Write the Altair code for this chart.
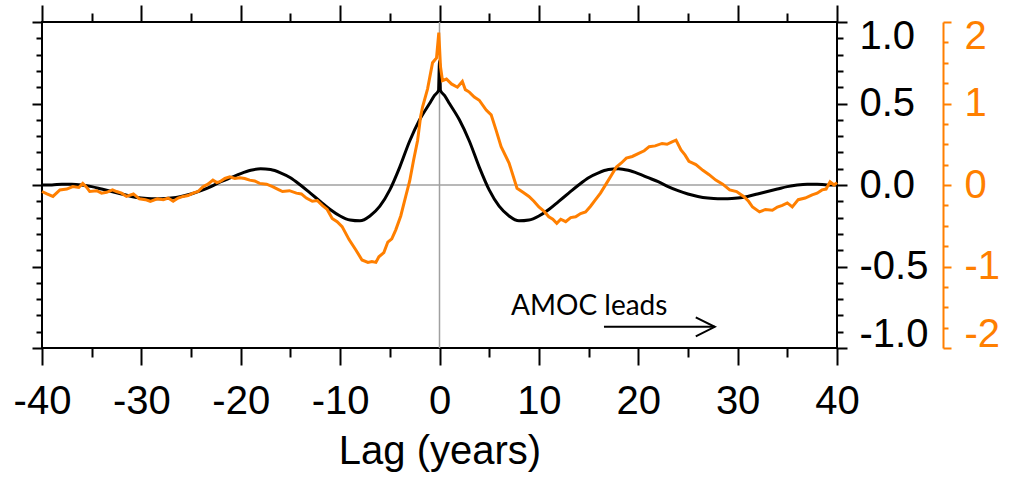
import altair as alt
import pandas as pd

# ---------------- data ----------------
black_lag = [-40, -39, -38, -37, -36, -35, -34, -33, -32, -31, -30, -29, -28, -27, -26, -25,
             -24, -23, -22, -21, -20, -19, -18, -17, -16, -15, -14, -13, -12, -11, -10, -9,
             -8, -7, -6, -5, -4, -3, -2, -1, -0.5, -0.1, 0, 0.1, 0.5, 1, 2, 3, 4, 5, 6, 7, 8,
             9, 10, 11, 12, 13, 14, 15, 16, 17, 18, 19, 20, 21, 22, 23, 24, 25, 26, 27, 28,
             29, 30, 31, 32, 33, 34, 35, 36, 37, 38, 39, 40]
black_r = [0.0, 0.0, 0.005, 0.005, 0.0, -0.01, -0.025, -0.04, -0.055, -0.07, -0.08, -0.085,
           -0.085, -0.08, -0.07, -0.055, -0.035, -0.01, 0.02, 0.045, 0.07, 0.09, 0.10, 0.095,
           0.075, 0.045, 0.0, -0.05, -0.10, -0.15, -0.19, -0.215, -0.22, -0.19, -0.13, -0.03,
           0.11, 0.27, 0.40, 0.50, 0.55, 0.58, 0.76, 0.58, 0.55, 0.50, 0.40, 0.27, 0.11,
           -0.03, -0.13, -0.19, -0.22, -0.215, -0.19, -0.15, -0.10, -0.05, 0.0, 0.045, 0.075,
           0.095, 0.10, 0.09, 0.07, 0.045, 0.02, -0.01, -0.035, -0.055, -0.07, -0.08, -0.085,
           -0.085, -0.08, -0.07, -0.055, -0.04, -0.025, -0.01, 0.0, 0.005, 0.005, 0.0, 0.0]

orange_lag = [-40, -39.5, -38.9, -38.2, -37.5, -36.9, -36.3, -35.9, -35.5, -35.2, -34.5, -34.0,
              -33.5, -32.9, -32.5, -32.0, -31.5, -30.8, -30.2, -29.6, -29.1, -28.4, -27.8,
              -27.3, -26.8, -26.3, -25.8, -25.3, -24.8, -24.3, -23.8, -23.3, -22.8, -22.4,
              -22.1, -21.6, -21.1, -20.6, -20.1, -19.6, -19.1, -18.6, -18.1, -17.4, -16.8,
              -16.3, -15.8, -15.1, -14.4, -13.9, -13.4, -12.8, -12.3, -11.8, -11.3, -10.8,
              -10.3, -9.8, -9.1, -8.4, -7.8, -7.2, -6.8, -6.4, -6.1, -5.6, -5.2, -4.8, -4.4,
              -3.9, -3.4, -3.0, -2.6, -2.2, -1.9, -1.7, -1.2, -0.7, -0.3, -0.07, 0.1, 0.3, 0.7,
              1.2, 1.8, 2.3, 2.6, 3.0, 3.5, 4.0, 4.7, 5.2, 5.7, 6.2, 7.0, 7.8, 8.4, 9.0, 9.5,
              10.0, 10.5, 11.0, 11.4, 11.8, 12.2, 12.7, 13.2, 13.7, 14.2, 14.7, 15.2, 15.7,
              16.2, 16.8, 17.3, 17.8, 18.3, 18.8, 19.4, 20.1, 20.6, 21.1, 21.7, 22.4, 22.9,
              23.4, 23.8, 24.3, 24.7, 25.1, 25.8, 26.5, 27.1, 27.8, 28.5, 29.2, 29.9, 30.6,
              31.1, 31.5, 32.2, 32.8, 33.5, 34.0, 34.5, 35.0, 35.5, 36.1, 36.8, 37.5, 38.0,
              38.5, 38.9, 39.3, 39.7, 40]
orange_v = [-0.08, -0.11, -0.14, -0.06, -0.05, -0.02, -0.03, 0.02, -0.03, -0.08, -0.07, -0.10,
            -0.09, -0.06, -0.08, -0.10, -0.14, -0.11, -0.17, -0.18, -0.20, -0.17, -0.18, -0.16,
            -0.20, -0.16, -0.14, -0.13, -0.10, -0.08, -0.02, 0.01, 0.06, 0.03, 0.04, 0.08, 0.10,
            0.08, 0.09, 0.08, 0.06, 0.05, 0.02, 0.01, -0.02, -0.05, -0.08, -0.07, -0.10, -0.11,
            -0.16, -0.20, -0.19, -0.25, -0.30, -0.41, -0.45, -0.51, -0.67, -0.80, -0.92, -0.95,
            -0.94, -0.95, -0.88, -0.83, -0.70, -0.66, -0.55, -0.38, -0.14, 0.05, 0.31, 0.55,
            0.84, 0.96, 1.18, 1.50, 1.56, 1.87, 1.45, 1.28, 1.30, 1.24, 1.20, 1.27, 1.17, 1.14,
            1.08, 1.04, 0.92, 0.86, 0.67, 0.47, 0.27, -0.04, -0.09, -0.14, -0.20, -0.27, -0.32,
            -0.39, -0.42, -0.47, -0.42, -0.45, -0.40, -0.39, -0.35, -0.33, -0.26, -0.18, -0.10,
            0.02, 0.12, 0.22, 0.27, 0.33, 0.35, 0.39, 0.42, 0.47, 0.48, 0.51, 0.50, 0.53, 0.55,
            0.43, 0.37, 0.29, 0.25, 0.18, 0.13, 0.06, 0.01, -0.06, -0.08, -0.14, -0.20, -0.27,
            -0.33, -0.30, -0.31, -0.27, -0.25, -0.22, -0.27, -0.18, -0.16, -0.12, -0.10, -0.06,
            -0.05, 0.04, 0.0, 0.03]

x_major = [-40, -30, -20, -10, 0, 10, 20, 30, 40]
x_minor = [-35, -25, -15, -5, 5, 15, 25, 35]
yb_major = [-1.0, -0.5, 0.0, 0.5, 1.0]
yb_minor = [-0.9, -0.8, -0.7, -0.6, -0.4, -0.3, -0.2, -0.1, 0.1, 0.2, 0.3, 0.4, 0.6, 0.7, 0.8, 0.9]
yo_major = [-2, -1, 0, 1, 2]
yo_minor = [-1.75, -1.5, -1.25, -0.75, -0.5, -0.25, 0.25, 0.5, 0.75, 1.25, 1.5, 1.75]

note_text = ["AMOC leads"]
note_lag = [7.2]
note_r = [-0.80]
arrow_start = [16.55]
arrow_end = [27.7]
arrow_r = [-0.87]

# ---------------- chart ----------------
FONT = "Liberation Sans"
ORANGE = "#ff7f00"
GRAY = "#a0a0a0"

black_df = pd.DataFrame({"lag": black_lag, "r": black_r})
orange_df = pd.DataFrame({"lag": orange_lag, "v": orange_v})
zero_df = pd.DataFrame({"z": [0]})
note_df = pd.DataFrame({"lag": note_lag, "r": note_r, "t": note_text})
arrow_df = pd.DataFrame({"lag": arrow_start, "lag2": arrow_end, "r": arrow_r})

xs = alt.Scale(domain=[-40, 40], nice=False, zero=False)
ybs = alt.Scale(domain=[-1, 1], nice=False, zero=False)
yos = alt.Scale(domain=[-2, 2], nice=False, zero=False)


def tick_axis(orient, values, size, color="black", offset=0):
    return alt.Axis(orient=orient, values=values, tickSize=size, tickWidth=2,
                    tickColor=color, labels=False, domain=False, grid=False,
                    title=None, offset=offset)


bottom_axis = alt.Axis(
    orient="bottom", values=x_major, tickSize=17, tickWidth=2, tickColor="black",
    labelExpr="(datum.value < 0 ? '-' : '') + format(abs(datum.value), 'd')",
    labelFont=FONT, labelFontSize=40, labelColor="black", labelBaseline="alphabetic",
    labelPadding=48, labelFlush=False, labelOverlap=False, domain=False, grid=False,
    title="Lag (years)", titleFont=FONT, titleFontSize=40, titleFontWeight="normal",
    titleColor="black", titleBaseline="alphabetic", titleY=115)

right_black_axis = alt.Axis(
    orient="right", values=yb_major, tickSize=10, tickWidth=2, tickColor="black",
    labelExpr="(datum.value < 0 ? '-' : '') + format(abs(datum.value), '.1f')",
    labelFont=FONT, labelFontSize=40, labelColor="black", labelPadding=12,
    labelFlush=True, labelFlushOffset=6, labelOverlap=False, domain=False, grid=False,
    title=None)

orange_axis = alt.Axis(
    orient="right", offset=106, values=yo_major, tickSize=8, tickWidth=2,
    tickColor=ORANGE, labelExpr="(datum.value < 0 ? '-' : '') + format(abs(datum.value), 'd')",
    labelFont=FONT, labelFontSize=40, labelColor=ORANGE, labelPadding=13,
    labelFlush=True, labelFlushOffset=6, labelOverlap=False, domain=True,
    domainColor=ORANGE, domainWidth=2, grid=False, title=None)

hline = alt.Chart(zero_df).mark_rule(color=GRAY, strokeWidth=1.5).encode(
    y=alt.Y("z:Q", scale=ybs, axis=tick_axis("left", yb_major, 10)))
vline = alt.Chart(zero_df).mark_rule(color=GRAY, strokeWidth=1.5).encode(
    x=alt.X("z:Q", scale=xs, axis=tick_axis("top", x_major, 17)))
black = alt.Chart(black_df).mark_line(color="black", strokeWidth=3, interpolate="monotone").encode(
    x=alt.X("lag:Q", scale=xs, axis=bottom_axis),
    y=alt.Y("r:Q", scale=ybs, axis=right_black_axis))
orange = alt.Chart(orange_df).mark_line(color=ORANGE, strokeWidth=3).encode(
    x=alt.X("lag:Q", scale=xs, axis=tick_axis("bottom", x_minor, 9)),
    y=alt.Y("v:Q", scale=yos, axis=orange_axis))
ghost1 = alt.Chart(black_df).mark_line(strokeOpacity=0).encode(
    x=alt.X("lag:Q", scale=xs, axis=tick_axis("top", x_minor, 9)),
    y=alt.Y("r:Q", scale=ybs, axis=tick_axis("right", yb_minor, 6)))
ghost2 = alt.Chart(black_df).mark_line(strokeOpacity=0).encode(
    x=alt.X("lag:Q", scale=xs, axis=None),
    y=alt.Y("r:Q", scale=ybs, axis=tick_axis("left", yb_minor, 6)))
ghost3 = alt.Chart(orange_df).mark_line(strokeOpacity=0).encode(
    x=alt.X("lag:Q", scale=xs, axis=None),
    y=alt.Y("v:Q", scale=yos, axis=tick_axis("right", yo_minor, 5, color=ORANGE, offset=106)))
note = alt.Chart(note_df).mark_text(font="Lato", fontSize=28, align="left",
                                     baseline="alphabetic", color="black").encode(
    x=alt.X("lag:Q", scale=xs, axis=None),
    y=alt.Y("r:Q", scale=ybs, axis=None),
    text="t:N")
arrow_line = alt.Chart(arrow_df).mark_rule(color="black", strokeWidth=2).encode(
    x=alt.X("lag:Q", scale=xs, axis=None), x2="lag2:Q",
    y=alt.Y("r:Q", scale=ybs, axis=None))
arrow_head = alt.Chart(arrow_df).mark_point(shape="M-2,-1L0,0L-2,1", size=361, filled=False,
                                             color="black", strokeWidth=2, opacity=1).encode(
    x=alt.X("lag2:Q", scale=xs, axis=None),
    y=alt.Y("r:Q", scale=ybs, axis=None))

chart = alt.layer(
    hline, vline, black, orange, ghost1, ghost2, ghost3, note, arrow_line, arrow_head
).resolve_scale(
    x="independent", y="independent"
).properties(
    width=795, height=326,
    autosize=alt.AutoSizeParams(type="none"),
    padding={"left": 42, "top": 22, "right": 172, "bottom": 130},
    background="white",
).configure_view(stroke="black", strokeWidth=2)

chart.save("out.html", embed_options={"renderer": "svg", "actions": False})
